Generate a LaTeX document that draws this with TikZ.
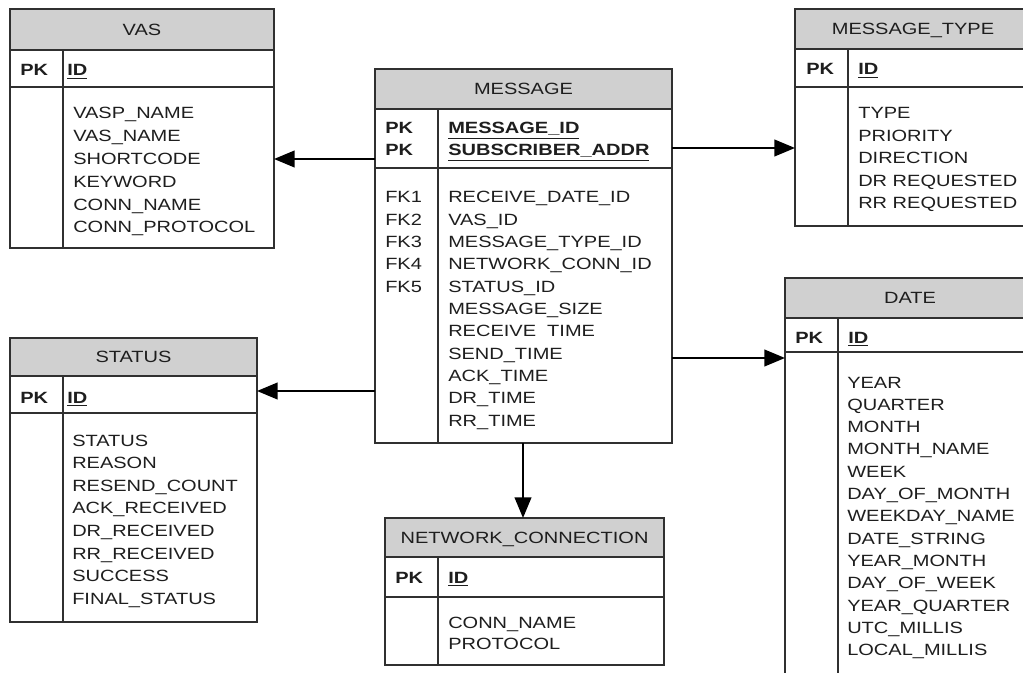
\documentclass[tikz,border=0pt]{standalone}
\usepackage{fontspec}
\setmainfont[FakeStretch=1.23]{Liberation Sans}
\usetikzlibrary{arrows.meta,fit}
\definecolor{hdr}{HTML}{D0D0D0}
\definecolor{ln}{HTML}{303030}
\definecolor{tx}{HTML}{1E1E1E}
\newcommand{\ertable}[9]{%
  \filldraw[tblline, fill=hdr] (#2,#3) rectangle (#4,#6);
  \draw[tblline] (#2,#6) rectangle (#4,#5);
  \draw[tblline] (#2,#7) -- (#4,#7);
  \draw[tblline] (#8,#6) -- (#8,#5);
  \node[fit={(#2,#3) (#4,#5)}, inner sep=0pt, outer sep=0pt] (#1) {};
  \node[txt, text height=8.8pt, text depth=0pt] (#1-title) at ({(#2+#4)/2},{(#3+#6)/2}) {#9};
}
\begin{document}
\begin{tikzpicture}[x=0.75pt,y=-0.75pt,
  tblline/.style={draw=ln, line width=1.1pt},
  txt/.style={inner sep=0pt, text=tx, font=\fontsize{12.2pt}{14pt}\selectfont},
  fld/.style={txt, anchor=base west},
  key/.style={fld, font=\fontsize{12.2pt}{14pt}\selectfont\bfseries},
  arr/.style={draw=black, line width=1.5pt, -{Triangle[length=15.5pt,width=12.5pt]}}]
\clip (0,0) rectangle (1023,673);
\fill[white] (0,0) rectangle (1023,673);

% VAS
\ertable{vas}{10}{9}{274}{248}{50}{87}{63}{VAS}
\node[key] (vas-pk) at (20,76) {PK};
\node[key] (vas-id) at (67,76) {\underline{ID}};
\foreach \t [count=\i from 0] in {VASP\_NAME,VAS\_NAME,SHORTCODE,KEYWORD,CONN\_NAME,CONN\_PROTOCOL}
  \node[fld] (vas-f\i) at (73,{119+\i*22.8}) {\t};

% MESSAGE
\ertable{msg}{375}{69}{672}{443}{109}{168}{438}{MESSAGE}
\node[key] (msg-pk1) at (385,134) {PK};
\node[key] (msg-pk2) at (385,156) {PK};
\node[key] (msg-id1) at (448,134) {\underline{MESSAGE\_ID}};
\node[key] (msg-id2) at (448,156) {\underline{SUBSCRIBER\_ADDR}};
\foreach \t [count=\i from 0] in {FK1,FK2,FK3,FK4,FK5}
  \node[fld] (msg-fk\i) at (385,{203+\i*22.3}) {\t};
\foreach \t [count=\i from 0] in {RECEIVE\_DATE\_ID,VAS\_ID,MESSAGE\_TYPE\_ID,NETWORK\_CONN\_ID,STATUS\_ID,MESSAGE\_SIZE,RECEIVE\hphantom{\_}TIME,SEND\_TIME,ACK\_TIME,DR\_TIME,RR\_TIME}
  \node[fld] (msg-f\i) at (448,{203+\i*22.3}) {\t};

% MESSAGE_TYPE
\ertable{mt}{795}{9}{1031}{226}{49}{87}{848}{MESSAGE\_TYPE}
\node[key] (mt-pk) at (806,75) {PK};
\node[key] (mt-id) at (858,75) {\underline{ID}};
\foreach \t [count=\i from 0] in {TYPE,PRIORITY,DIRECTION,DR REQUESTED,RR REQUESTED}
  \node[fld] (mt-f\i) at (858,{119+\i*22.5}) {\t};

% STATUS
\ertable{st}{10}{338}{257}{622}{376}{413}{63}{STATUS}
\node[key] (st-pk) at (20,403) {PK};
\node[key] (st-id) at (67,403) {\underline{ID}};
\foreach \t [count=\i from 0] in {STATUS,REASON,RESEND\_COUNT,ACK\_RECEIVED,DR\_RECEIVED,RR\_RECEIVED,SUCCESS,FINAL\_STATUS}
  \node[fld] (st-f\i) at (72,{446+\i*22.6}) {\t};

% DATE
\ertable{dt}{785}{278}{1035}{690}{318}{352}{838}{DATE}
\node[key] (dt-pk) at (795,343) {PK};
\node[key] (dt-id) at (848,343) {\underline{ID}};
\foreach \t [count=\i from 0] in {YEAR,QUARTER,MONTH,MONTH\_NAME,WEEK,DAY\_OF\_MONTH,WEEKDAY\_NAME,DATE\_STRING,YEAR\_MONTH,DAY\_OF\_WEEK,YEAR\_QUARTER,UTC\_MILLIS,LOCAL\_MILLIS}
  \node[fld] (dt-f\i) at (847,{388+\i*22.3}) {\t};

% NETWORK_CONNECTION
\ertable{nc}{385}{518}{664}{665}{557}{597}{438}{NETWORK\_CONNECTION}
\node[key] (nc-pk) at (395,583) {PK};
\node[key] (nc-id) at (448,583) {\underline{ID}};
\node[fld] (nc-f0) at (448,628) {CONN\_NAME};
\node[fld] (nc-f1) at (448,649) {PROTOCOL};

% connectors
\draw[arr] (msg.west |- 0,159) -- (vas.east |- 0,159);
\draw[arr] (msg.east |- 0,148) -- (mt.west |- 0,148);
\draw[arr] (msg.east |- 0,358) -- (dt.west |- 0,358);
\draw[arr] (msg.west |- 0,391) -- (st.east |- 0,391);
\draw[arr] (msg.south -| 523,0) -- (nc.north -| 523,0);
\end{tikzpicture}
\end{document}
